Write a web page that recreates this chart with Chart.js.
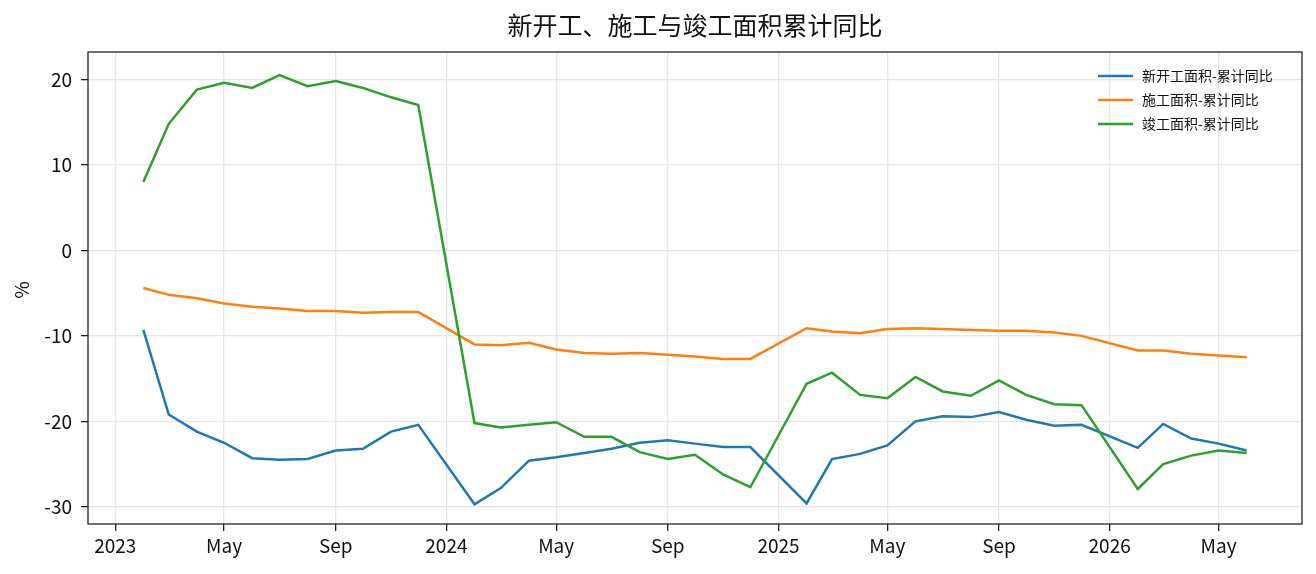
<!DOCTYPE html>
<html>
<head>
<meta charset="utf-8">
<script src="https://cdn.jsdelivr.net/npm/chart.js@4"></script>
<style>
  body { margin: 0; background: #fff; }
  canvas { display: block; }
</style>
</head>
<body>
<canvas id="areaChart" width="1316" height="574"></canvas>
<script>
// months (Jan is folded into Feb in the source data)
const months = [
    '2023-02', '2023-03', '2023-04', '2023-05', '2023-06', '2023-07', '2023-08', '2023-09', '2023-10', '2023-11', '2023-12',
    '2024-02', '2024-03', '2024-04', '2024-05', '2024-06', '2024-07', '2024-08', '2024-09', '2024-10', '2024-11', '2024-12',
    '2025-02', '2025-03', '2025-04', '2025-05', '2025-06', '2025-07', '2025-08', '2025-09', '2025-10', '2025-11', '2025-12',
    '2026-02', '2026-03', '2026-04', '2026-05', '2026-06'
];

const newStarts = [
    -9.3, -19.2, -21.2, -22.5, -24.3, -24.5, -24.4, -23.4, -23.2, -21.2, -20.4,
    -29.7, -27.8, -24.6, -24.2, -23.7, -23.2, -22.5, -22.2, -22.6, -23.0, -23.0,
    -29.6, -24.4, -23.8, -22.8, -20.0, -19.4, -19.5, -18.9, -19.8, -20.5, -20.4,
    -23.1, -20.3, -22.0, -22.6, -23.4
];
const underConstruction = [
    -4.4, -5.2, -5.6, -6.2, -6.6, -6.8, -7.1, -7.1, -7.3, -7.2, -7.2,
    -11.0, -11.1, -10.8, -11.6, -12.0, -12.1, -12.0, -12.2, -12.4, -12.7, -12.7,
    -9.1, -9.5, -9.7, -9.2, -9.1, -9.2, -9.3, -9.4, -9.4, -9.6, -10.0,
    -11.7, -11.7, -12.1, -12.3, -12.5
];
const completed = [
    8.0, 14.8, 18.8, 19.6, 19.0, 20.5, 19.2, 19.8, 19.0, 17.9, 17.0,
    -20.2, -20.7, -20.4, -20.1, -21.8, -21.8, -23.6, -24.4, -23.9, -26.2, -27.7,
    -15.6, -14.3, -16.9, -17.3, -14.8, -16.5, -17.0, -15.2, -16.9, -18.0, -18.1,
    -27.9, -25.0, -24.0, -23.4, -23.7
];

const seriesNames = ['新开工面积-累计同比', '施工面积-累计同比', '竣工面积-累计同比'];
const seriesColors = ['#1f77b4', '#ff7f0e', '#2ca02c'];

const xTicks = ['2023-01', '2023-05', '2023-09', '2024-01', '2024-05', '2024-09',
                '2025-01', '2025-05', '2025-09', '2026-01', '2026-05'];
const yTicks = [-30, -20, -10, 0, 10, 20];
const monthNames = ['Jan', 'Feb', 'Mar', 'Apr', 'May', 'Jun', 'Jul', 'Aug', 'Sep', 'Oct', 'Nov', 'Dec'];

const FONT = '"Noto Sans CJK SC", "Noto Sans", sans-serif';

function toDay(s, d) {
    const [y, m] = s.split('-').map(Number);
    return Date.UTC(y, m - 1, d || 1) / 86400000;
}

function makeData(values) {
    return months.map((m, i) => ({ x: toDay(m), y: values[i] }));
}

const xMin = toDay('2022-12', 2);
const xMax = toDay('2026-08', 1);

const framePlugin = {
    id: 'frame',
    afterDraw(chart) {
        const c = chart.ctx;
        const a = chart.chartArea;
        c.save();
        c.strokeStyle = '#222';
        c.lineWidth = 1.3;
        c.strokeRect(a.left, a.top, a.right - a.left, a.bottom - a.top);

        // title
        c.fillStyle = '#111';
        c.font = '25px ' + FONT;
        c.textAlign = 'center';
        c.textBaseline = 'middle';
        c.fillText('新开工、施工与竣工面积累计同比', (a.left + a.right) / 2, 25);

        // y axis title
        c.save();
        c.translate(22, 290);
        c.rotate(-Math.PI / 2);
        c.font = '19px ' + FONT;
        c.fillText('%', 0, 0);
        c.restore();

        // legend
        c.font = '14px ' + FONT;
        c.textAlign = 'left';
        const rows = [76, 100, 124];
        seriesNames.forEach((name, i) => {
            c.strokeStyle = seriesColors[i];
            c.lineWidth = 2.5;
            c.beginPath();
            c.moveTo(1098, rows[i]);
            c.lineTo(1133, rows[i]);
            c.stroke();
            c.fillStyle = '#111';
            c.fillText(name, 1142, rows[i]);
        });
        c.restore();
    }
};

const ctx = document.getElementById('areaChart').getContext('2d');
const chart = new Chart(ctx, {
    type: 'line',
    data: {
        datasets: [
            { label: seriesNames[0], data: makeData(newStarts), borderColor: seriesColors[0], order: 2 },
            { label: seriesNames[1], data: makeData(underConstruction), borderColor: seriesColors[1], order: 1 },
            { label: seriesNames[2], data: makeData(completed), borderColor: seriesColors[2], order: 0 }
        ]
    },
    options: {
        responsive: false,
        animation: false,
        devicePixelRatio: 1,
        layout: { padding: { left: 0, right: 14, top: 52, bottom: 0 } },
        elements: {
            line: { borderWidth: 2.5, tension: 0, fill: false },
            point: { radius: 0, hoverRadius: 0 }
        },
        plugins: {
            legend: { display: false },
            title: { display: false },
            tooltip: { enabled: false }
        },
        scales: {
            x: {
                type: 'linear',
                min: xMin,
                max: xMax,
                afterFit(scale) { scale.height = 50; },
                afterBuildTicks(scale) {
                    scale.ticks = xTicks.map(t => ({ value: toDay(t) }));
                },
                ticks: {
                    color: '#111',
                    font: { family: FONT, size: 19 },
                    padding: 3,
                    maxRotation: 0,
                    autoSkip: false,
                    callback(value) {
                        const d = new Date(value * 86400000);
                        const m = d.getUTCMonth();
                        return m === 0 ? String(d.getUTCFullYear()) : monthNames[m];
                    }
                },
                grid: { color: '#e6e6e6', lineWidth: 1.3, tickColor: '#222', tickLength: 7 },
                border: { display: false }
            },
            y: {
                min: -32.0,
                max: 23.2,
                afterFit(scale) { scale.width = 88; },
                afterBuildTicks(scale) {
                    scale.ticks = yTicks.map(v => ({ value: v }));
                },
                ticks: {
                    color: '#111',
                    font: { family: FONT, size: 19 },
                    padding: 9
                },
                grid: { color: '#e6e6e6', lineWidth: 1.3, tickColor: '#222', tickLength: 7 },
                border: { display: false }
            }
        }
    },
    plugins: [framePlugin]
});
</script>
</body>
</html>
